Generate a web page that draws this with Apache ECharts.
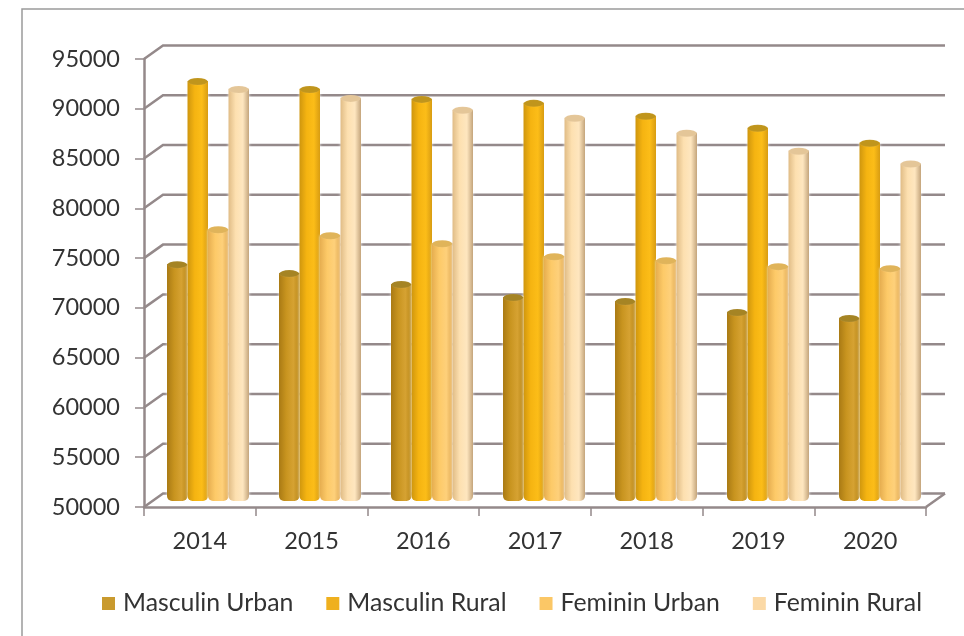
<!DOCTYPE html>
<html>
<head>
<meta charset="utf-8">
<style>html,body{margin:0;padding:0;background:#fff}#c{width:964px;height:636px}</style>
<script src="https://cdn.jsdelivr.net/npm/echarts@6/dist/echarts.min.js"></script>
</head>
<body>
<div id="c"></div>
<script>
const categories = ['2014','2015','2016','2017','2018','2019','2020'];
const masculinUrban = [73800,72900,71800,70500,70100,69000,68400];
const masculinRural = [92200,91400,90400,90000,88700,87500,86000];
const femininUrban  = [77300,76700,75900,74600,74200,73600,73400];
const femininRural  = [91400,90500,89300,88500,87000,85200,83900];
const valueTicks = [50000,55000,60000,65000,70000,75000,80000,85000,90000,95000];

const names = ['Masculin Urban','Masculin Rural','Feminin Urban','Feminin Rural'];
const values = [masculinUrban,masculinRural,femininUrban,femininRural];
const swatches = ['#c99a2e','#efb01e','#fbc766','#fbd9a6'];
const bodies = [
  ['#a97a14','#c8941f','#d6a232','#b98718'],
  ['#cf960e','#f5b411','#fcbd18','#d89c12'],
  ['#e6ae50','#fdca68','#fed07a','#e2ab55'],
  ['#e0bc86','#fde0b0','#fee6bf','#c4a57c']
];
const caps = ['#a58424','#c0951c','#e0b45a','#e4c698'];
const wallColor = '#94898a';
const depthX = 19, depthY = -13.5;

const chart = echarts.init(document.getElementById('c'), null, {renderer:'canvas'});

const series = [{
  type:'custom', xAxisIndex:0, yAxisIndex:0, silent:true, z:1, clip:false,
  data: valueTicks.map(v=>[0,v]),
  encode:{y:1},
  renderItem(params, api){
    const v = api.value(1);
    const cs = params.coordSys;
    const y = api.coord([0,v])[1];
    const x0 = cs.x, x1 = cs.x + cs.width;
    const children = [{
      type:'polyline',
      shape:{points:[[x0,y],[x0+depthX,y+depthY],[x1+depthX,y+depthY]]},
      style:{stroke:wallColor,lineWidth:2.5,fill:null}
    }];
    if(v===valueTicks[0]){
      children.push({
        type:'polyline',
        shape:{points:[[x1,y],[x1+depthX,y+depthY]]},
        style:{stroke:wallColor,lineWidth:2.5,fill:null}
      });
    }
    return {type:'group',children};
  }
}];

names.forEach((name,i)=>{
  series.push({
    type:'bar', name, xAxisIndex:1, yAxisIndex:1, data:values[i], z:3,
    barWidth:20.5, barGap:'0%', silent:true,
    itemStyle:{
      borderRadius:[0,0,5,5],
      shadowColor:'rgba(255,255,255,0.9)', shadowBlur:3,
      color:new echarts.graphic.LinearGradient(0,0,1,0,[
        {offset:0,color:bodies[i][0]},
        {offset:0.35,color:bodies[i][1]},
        {offset:0.7,color:bodies[i][2]},
        {offset:1,color:bodies[i][3]}
      ])
    }
  });
  series.push({
    type:'pictorialBar', name, xAxisIndex:1, yAxisIndex:1, data:values[i], z:4,
    barWidth:20.5, barGap:'0%', silent:true,
    symbol:'circle', symbolPosition:'end', symbolSize:[20,7], symbolOffset:[0,'-50%'],
    itemStyle:{color:caps[i],borderColor:'#fff6d8',borderWidth:2}
  });
});

chart.setOption({
  animation:false,
  backgroundColor:'#fff',
  graphic:[{
    type:'polyline', silent:true, z:0,
    shape:{points:[[22,640],[22,9],[970,9]]},
    style:{stroke:'#9a9a9a',lineWidth:1.5,fill:null}
  }],
  legend:{
    left:97, top:586, selectedMode:false, icon:'rect',
    itemWidth:13, itemHeight:13, itemGap:33,
    textStyle:{fontFamily:'Lato',fontSize:24.8,color:'#333',padding:[0,0,0,3]},
    data:names.map((n,i)=>({name:n,itemStyle:{color:swatches[i]}}))
  },
  grid:[
    {left:144,top:59,width:782,height:448},
    {left:152,top:53,width:784,height:448}
  ],
  xAxis:[{
    gridIndex:0,type:'category',data:categories,
    axisLine:{lineStyle:{color:wallColor,width:2.5}},
    axisTick:{show:true,length:9,alignWithLabel:false,lineStyle:{color:wallColor,width:1.5}},
    axisLabel:{fontFamily:'Lato',fontSize:23.5,color:'#333',margin:22}
  },{
    gridIndex:1,type:'category',data:categories,show:false
  }],
  yAxis:[{
    gridIndex:0,type:'value',min:50000,max:95000,interval:5000,
    axisLine:{show:true,lineStyle:{color:wallColor,width:2.5}},
    axisTick:{show:true,length:9,lineStyle:{color:wallColor,width:1.5}},
    splitLine:{show:false},
    axisLabel:{fontFamily:'Lato',fontSize:23.5,color:'#333',margin:24,formatter:v=>String(v)}
  },{
    gridIndex:1,type:'value',min:50000,max:95000,interval:5000,show:false,splitLine:{show:false}
  }],
  series
});
</script>
</body>
</html>
